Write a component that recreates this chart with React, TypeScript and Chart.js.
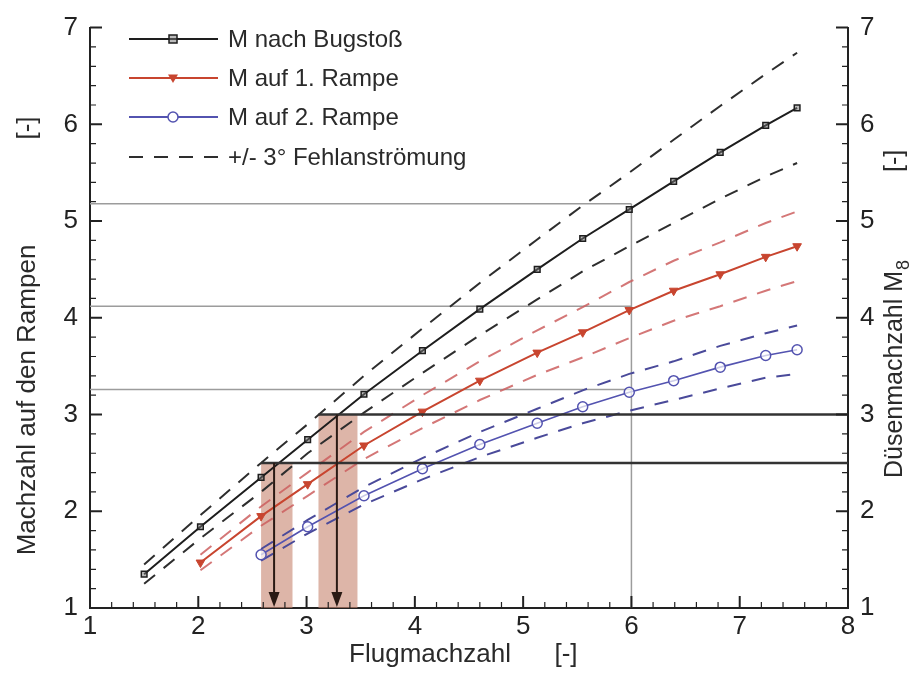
import React, { useEffect, useRef } from "react";
import { Chart, registerables } from "chart.js";

Chart.register(...registerables);

const FONT = '"Liberation Sans", Arial, Helvetica, sans-serif';

// Flugmachzahl (x) values for each series
const xBug = [1.5, 2.02, 2.58, 3.01, 3.53, 4.07, 4.6, 5.13, 5.55, 5.98, 6.39, 6.82, 7.24, 7.53];
const xRampe1 = [2.02, 2.58, 3.01, 3.53, 4.07, 4.6, 5.13, 5.55, 5.98, 6.39, 6.82, 7.24, 7.53];
const xRampe2 = [2.58, 3.01, 3.53, 4.07, 4.6, 5.13, 5.55, 5.98, 6.39, 6.82, 7.24, 7.53];

// M nach Bugstoß
const mBug = [1.35, 1.84, 2.35, 2.74, 3.21, 3.66, 4.09, 4.5, 4.82, 5.12, 5.41, 5.71, 5.99, 6.17];
const mBugUp = [1.45, 1.96, 2.5, 2.9, 3.4, 3.89, 4.36, 4.81, 5.16, 5.5, 5.84, 6.19, 6.52, 6.74];
const mBugLo = [1.25, 1.72, 2.2, 2.6, 3.02, 3.43, 3.82, 4.19, 4.48, 4.74, 4.98, 5.23, 5.46, 5.6];

// M auf 1. Rampe
const mR1 = [1.47, 1.95, 2.28, 2.68, 3.03, 3.35, 3.64, 3.85, 4.08, 4.28, 4.45, 4.63, 4.74];
const mR1Up = [1.55, 2.05, 2.4, 2.82, 3.2, 3.55, 3.87, 4.11, 4.37, 4.59, 4.78, 4.98, 5.1];
const mR1Lo = [1.39, 1.85, 2.16, 2.54, 2.86, 3.15, 3.41, 3.59, 3.79, 3.97, 4.12, 4.28, 4.38];

// M auf 2. Rampe
const mR2 = [1.55, 1.84, 2.16, 2.44, 2.69, 2.91, 3.08, 3.23, 3.35, 3.49, 3.61, 3.67];
const mR2Up = [1.61, 1.91, 2.25, 2.55, 2.82, 3.06, 3.25, 3.42, 3.55, 3.71, 3.84, 3.92];
const mR2Lo = [1.49, 1.77, 2.07, 2.33, 2.56, 2.76, 2.91, 3.04, 3.15, 3.27, 3.38, 3.42];

// annotations
const guideLevels = [5.18, 4.12, 3.26];
const guideX = 6;
const nozzleLevels = [2.5, 3.0];
const nozzleStartX = [2.58, 3.11];
const arrowX = [2.7, 3.28];
const bandX = [
  [2.58, 2.87],
  [3.11, 3.47],
];

const legendLabels = ["M nach Bugstoß", "M auf 1. Rampe", "M auf 2. Rampe", "+/- 3° Fehlanströmung"];

const BLACK = "#1e1e1e";
const RED = "#c8452f";
const RED_DASH = "rgba(205,95,95,0.85)";
const BLUE = "#5353b0";
const BLUE_DASH = "#4a4a9a";
const BLACK_DASH = "#2e2e2e";
const DASH = [14, 11];

function pts(xs: number[], ys: number[]) {
  return xs.map((x, i) => ({ x, y: ys[i] }));
}

function drawMarker(ctx: CanvasRenderingContext2D, kind: string, x: number, y: number) {
  ctx.save();
  ctx.lineWidth = 1.5;
  if (kind === "rect") {
    ctx.strokeStyle = BLACK;
    ctx.fillStyle = "rgba(120,120,120,0.5)";
    ctx.fillRect(x - 4, y - 4, 8, 8);
    ctx.strokeRect(x - 4, y - 4, 8, 8);
  } else if (kind === "tri") {
    ctx.fillStyle = RED;
    ctx.beginPath();
    ctx.moveTo(x - 5, y - 3.5);
    ctx.lineTo(x + 5, y - 3.5);
    ctx.lineTo(x, y + 5);
    ctx.closePath();
    ctx.fill();
  } else {
    ctx.strokeStyle = BLUE;
    ctx.fillStyle = "#fff";
    ctx.beginPath();
    ctx.arc(x, y, 5, 0, Math.PI * 2);
    ctx.fill();
    ctx.stroke();
  }
  ctx.restore();
}

const decor = {
  id: "decor",
  beforeDatasetsDraw(chart: any) {
    const { ctx, scales } = chart;
    const xs = scales.x;
    const ys = scales.y;
    ctx.save();
    // shaded bands
    ctx.fillStyle = "rgba(200,135,115,0.62)";
    bandX.forEach((b, i) => {
      const x0 = xs.getPixelForValue(b[0]);
      const x1 = xs.getPixelForValue(b[1]);
      const yTop = ys.getPixelForValue(nozzleLevels[i]);
      const yBot = ys.getPixelForValue(1);
      ctx.fillRect(x0, yTop, x1 - x0, yBot - yTop);
    });
    // grey guide lines
    ctx.strokeStyle = "#9c9c9c";
    ctx.lineWidth = 1.5;
    guideLevels.forEach((lv) => {
      const py = ys.getPixelForValue(lv);
      ctx.beginPath();
      ctx.moveTo(xs.getPixelForValue(1), py);
      ctx.lineTo(xs.getPixelForValue(guideX), py);
      ctx.stroke();
    });
    const gx = xs.getPixelForValue(guideX);
    ctx.beginPath();
    ctx.moveTo(gx, ys.getPixelForValue(guideLevels[0]));
    ctx.lineTo(gx, ys.getPixelForValue(1));
    ctx.stroke();
    ctx.restore();
  },
  afterDatasetsDraw(chart: any) {
    const { ctx, scales } = chart;
    const xs = scales.x;
    const ys = scales.y;
    const area = chart.chartArea;
    ctx.save();
    // thick nozzle lines
    ctx.strokeStyle = "#333";
    ctx.lineWidth = 2.5;
    nozzleLevels.forEach((lv, i) => {
      const py = ys.getPixelForValue(lv);
      ctx.beginPath();
      ctx.moveTo(xs.getPixelForValue(nozzleStartX[i]), py);
      ctx.lineTo(xs.getPixelForValue(8), py);
      ctx.stroke();
    });
    // arrows
    arrowX.forEach((ax, i) => {
      const px = xs.getPixelForValue(ax);
      const top = ys.getPixelForValue(nozzleLevels[i]);
      const bot = ys.getPixelForValue(1);
      ctx.strokeStyle = "#2a1a14";
      ctx.fillStyle = "#2a1a14";
      ctx.lineWidth = 2;
      ctx.beginPath();
      ctx.moveTo(px, top);
      ctx.lineTo(px, bot - 12);
      ctx.stroke();
      ctx.beginPath();
      ctx.moveTo(px - 5.5, bot - 16);
      ctx.lineTo(px + 5.5, bot - 16);
      ctx.lineTo(px, bot - 1);
      ctx.closePath();
      ctx.fill();
    });
    // ticks (inward)
    ctx.strokeStyle = "#222";
    for (let i = 0; i <= 35; i++) {
      const v = 1 + i * 0.2;
      const major = i % 5 === 0;
      const len = major ? 12 : 6;
      ctx.lineWidth = major ? 2 : 1.2;
      const px = xs.getPixelForValue(v);
      ctx.beginPath();
      ctx.moveTo(px, area.bottom);
      ctx.lineTo(px, area.bottom - len);
      ctx.stroke();
    }
    for (let i = 0; i <= 30; i++) {
      const v = 1 + i * 0.2;
      const major = i % 5 === 0;
      const len = major ? 12 : 6;
      ctx.lineWidth = major ? 2 : 1.2;
      const py = ys.getPixelForValue(v);
      ctx.beginPath();
      ctx.moveTo(area.left, py);
      ctx.lineTo(area.left + len, py);
      ctx.moveTo(area.right, py);
      ctx.lineTo(area.right - len, py);
      ctx.stroke();
    }
    // legend
    const rowY = [39, 78, 117, 157];
    const kinds = ["rect", "tri", "circ", "dash"];
    const cols = [BLACK, RED, BLUE, BLACK_DASH];
    ctx.font = `24px ${FONT}`;
    ctx.textBaseline = "middle";
    ctx.textAlign = "left";
    rowY.forEach((ry, i) => {
      ctx.strokeStyle = cols[i];
      ctx.lineWidth = 2;
      if (kinds[i] === "dash") ctx.setLineDash(DASH);
      else ctx.setLineDash([]);
      ctx.beginPath();
      ctx.moveTo(129, ry);
      ctx.lineTo(218, ry);
      ctx.stroke();
      ctx.setLineDash([]);
      if (kinds[i] !== "dash") drawMarker(ctx, kinds[i], 173, ry);
      ctx.fillStyle = "#2a2a2a";
      ctx.fillText(legendLabels[i], 228, ry + 1);
    });
    // axis titles
    ctx.fillStyle = "#2a2a2a";
    ctx.font = `26px ${FONT}`;
    ctx.textAlign = "center";
    ctx.textBaseline = "middle";
    ctx.fillText("Flugmachzahl", 430, 655);
    ctx.fillText("[-]", 566, 655);

    ctx.save();
    ctx.translate(28, 400);
    ctx.rotate(-Math.PI / 2);
    ctx.fillText("Machzahl auf den Rampen", 0, 0);
    ctx.restore();
    ctx.save();
    ctx.translate(28, 128);
    ctx.rotate(-Math.PI / 2);
    ctx.fillText("[-]", 0, 0);
    ctx.restore();

    ctx.save();
    ctx.translate(895, 478);
    ctx.rotate(-Math.PI / 2);
    ctx.textAlign = "left";
    ctx.font = `25px ${FONT}`;
    const main = "Düsenmachzahl M";
    ctx.fillText(main, 0, 0);
    const w = ctx.measureText(main).width;
    ctx.font = `18px ${FONT}`;
    ctx.fillText("8", w + 1, 9);
    ctx.font = `25px ${FONT}`;
    ctx.fillText("[-]", 306, 0);
    ctx.restore();

    ctx.restore();
  },
};

export default function App() {
  const ref = useRef<HTMLCanvasElement>(null);
  useEffect(() => {
    const canvas = ref.current;
    if (!canvas) return;
    const tickFont = { family: FONT, size: 26 };
    const chart = new Chart(canvas, {
      type: "line",
      data: {
        datasets: [
          {
            label: legendLabels[0],
            data: pts(xBug, mBug),
            borderColor: BLACK,
            borderWidth: 2,
            pointStyle: "rect",
            pointRadius: 4,
            pointBorderWidth: 1.5,
            pointBorderColor: BLACK,
            pointBackgroundColor: "rgba(120,120,120,0.5)",
          },
          {
            label: legendLabels[1],
            data: pts(xRampe1, mR1),
            borderColor: RED,
            borderWidth: 2,
            pointStyle: "triangle",
            pointRotation: 180,
            pointRadius: 5,
            pointBorderWidth: 1,
            pointBorderColor: RED,
            pointBackgroundColor: RED,
          },
          {
            label: legendLabels[2],
            data: pts(xRampe2, mR2),
            borderColor: BLUE,
            borderWidth: 1.6,
            pointStyle: "circle",
            pointRadius: 5,
            pointBorderWidth: 1.5,
            pointBorderColor: BLUE,
            pointBackgroundColor: "rgba(255,255,255,0.7)",
          },
          { label: "bug+", data: pts(xBug, mBugUp), borderColor: BLACK_DASH, borderWidth: 2, borderDash: DASH, pointRadius: 0 },
          { label: "bug-", data: pts(xBug, mBugLo), borderColor: BLACK_DASH, borderWidth: 2, borderDash: DASH, pointRadius: 0 },
          { label: "r1+", data: pts(xRampe1, mR1Up), borderColor: RED_DASH, borderWidth: 2, borderDash: DASH, pointRadius: 0 },
          { label: "r1-", data: pts(xRampe1, mR1Lo), borderColor: RED_DASH, borderWidth: 2, borderDash: DASH, pointRadius: 0 },
          { label: "r2+", data: pts(xRampe2, mR2Up), borderColor: BLUE_DASH, borderWidth: 2, borderDash: DASH, pointRadius: 0 },
          { label: "r2-", data: pts(xRampe2, mR2Lo), borderColor: BLUE_DASH, borderWidth: 2, borderDash: DASH, pointRadius: 0 },
        ],
      },
      options: {
        animation: false,
        responsive: false,
        layout: { padding: { top: 22, left: 0, right: 0, bottom: 0 } },
        plugins: { legend: { display: false }, tooltip: { enabled: false } },
        scales: {
          x: {
            type: "linear",
            min: 1,
            max: 8,
            position: "bottom",
            afterFit: (s: any) => {
              s.height = 69;
            },
            ticks: { stepSize: 1, padding: 3, font: tickFont, color: "#222", maxRotation: 0 },
            grid: { display: false, drawTicks: false },
            border: { display: true, color: "#222", width: 2 },
          },
          y: {
            type: "linear",
            min: 1,
            max: 7,
            position: "left",
            afterFit: (s: any) => {
              s.width = 90;
            },
            ticks: { stepSize: 1, padding: 12, font: tickFont, color: "#222" },
            grid: { display: false, drawTicks: false },
            border: { display: true, color: "#222", width: 2 },
          },
          y2: {
            type: "linear",
            min: 1,
            max: 7,
            position: "right",
            afterFit: (s: any) => {
              s.width = 75;
            },
            ticks: { stepSize: 1, padding: 12, font: tickFont, color: "#222" },
            grid: { display: false, drawTicks: false },
            border: { display: true, color: "#222", width: 2 },
          },
        },
      },
      plugins: [decor],
    } as any);
    return () => chart.destroy();
  }, []);
  return (
    <canvas
      ref={ref}
      width={923}
      height={677}
      style={{ position: "absolute", left: 0, top: 0, width: 923, height: 677, background: "#fff" }}
    />
  );
}
